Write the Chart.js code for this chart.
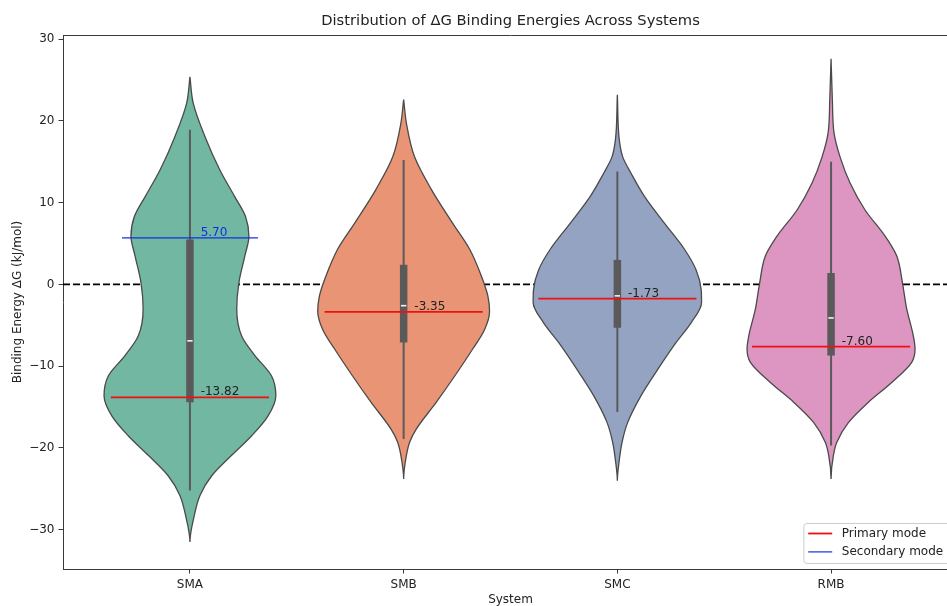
<!DOCTYPE html>
<html>
<head>
<meta charset="utf-8">
<title>Distribution of ΔG Binding Energies Across Systems</title>
<script src="https://cdn.jsdelivr.net/npm/chart.js@4.4.0/dist/chart.umd.min.js"></script>
<style>
  html, body { margin: 0; padding: 0; overflow: hidden; background: #fff; }
  #wrap { width: 1000px; height: 606px; }
</style>
</head>
<body>
<div id="wrap"><canvas id="violins" width="1000" height="606"></canvas></div>
<script>
const systems = ['SMA', 'SMB', 'SMC', 'RMB'];
const yTicks = [-30, -20, -10, 0, 10, 20, 30];

// violin outlines: energy level (kJ/mol) and half width (category units)
const smaLevels = [25.4, 22.2, 18.1, 14.0, 10.8, 8.3, 5.9, 3.5, 0.2, -3.0, -6.3, -8.7, -11.2, -13.6, -16.1, -18.5, -20.9, -23.4, -25.8, -28.3, -31.5];
const smaWidths = [0, 0.015, 0.070, 0.140, 0.208, 0.260, 0.276, 0.257, 0.229, 0.219, 0.242, 0.304, 0.382, 0.402, 0.365, 0.289, 0.195, 0.102, 0.047, 0.020, 0];

const smbLevels = [22.6, 19.7, 15.6, 11.6, 7.5, 4.3, 1.0, -1.4, -3.3, -5.5, -7.9, -11.2, -14.4, -17.7, -19.3, -20.9, -23.8];
const smbWidths = [0, 0.013, 0.051, 0.130, 0.229, 0.309, 0.364, 0.394, 0.402, 0.379, 0.323, 0.239, 0.153, 0.059, 0.028, 0.013, 0];

const smcLevels = [23.2, 17.7, 15.6, 13.6, 10.8, 7.5, 4.3, 1.8, -0.6, -2.2, -4.7, -7.1, -10.4, -13.6, -16.9, -19.3, -21.7, -24.0];
const smcWidths = [0, 0.009, 0.025, 0.064, 0.126, 0.220, 0.314, 0.368, 0.392, 0.394, 0.345, 0.275, 0.189, 0.111, 0.048, 0.022, 0.008, 0];

const rmbLevels = [27.6, 22.6, 18.5, 15.6, 12.4, 9.1, 5.9, 3.5, 0.2, -3.0, -6.3, -7.9, -9.5, -12.0, -14.4, -16.9, -19.3, -20.9, -23.8];
const rmbWidths = [0, 0.006, 0.014, 0.042, 0.089, 0.159, 0.253, 0.307, 0.334, 0.354, 0.385, 0.393, 0.378, 0.284, 0.175, 0.081, 0.027, 0.011, 0];

// inner box stats
const whiskerLow = [-25.2, -18.9, -15.6, -19.7];
const whiskerHigh = [18.9, 15.2, 13.8, 15.0];
const q1 = [-14.4, -7.1, -5.3, -8.7];
const q3 = [5.5, 2.4, 3.0, 1.4];
const medians = [-6.9, -2.6, -1.4, -4.1];

// KDE modes
const primaryModes = [-13.82, -3.35, -1.73, -7.60];
const secondaryModes = [5.70, null, null, null];

const fillColors = ['#71b7a1', '#e99575', '#95a3c3', '#dc96c1'];
const AXIS_COLOR = '#3a3a3a';
const TEXT_COLOR = '#222';
const FONT = '"DejaVu Sans", sans-serif';
const X_MIN = -0.594, X_MAX = 3.594;
const Y_MIN = -34.8, Y_MAX = 30.5;

function violinPoints(i, levels, widths) {
  const right = levels.map((v, k) => ({x: i + widths[k], y: v}));
  const left = levels.map((v, k) => ({x: i - widths[k], y: v})).reverse();
  return right.concat(left.slice(1));
}

const outlines = [
  [smaLevels, smaWidths],
  [smbLevels, smbWidths],
  [smcLevels, smcWidths],
  [rmbLevels, rmbWidths]
];

const datasets = [];
datasets.push({
  data: [{x: X_MIN, y: 0}, {x: X_MAX, y: 0}],
  borderColor: '#000', borderWidth: 1.8, borderDash: [7, 3], order: 10
});
outlines.forEach(([levels, widths], i) => {
  // smooth along the energy axis so tips stay pointed
  datasets.push({
    data: violinPoints(i, levels, widths),
    indexAxis: 'y',
    cubicInterpolationMode: 'monotone',
    borderColor: '#4a4a4a', borderWidth: 1.3,
    backgroundColor: fillColors[i], fill: 'shape', order: 9
  });
  datasets.push({
    data: [{x: i, y: whiskerLow[i]}, {x: i, y: whiskerHigh[i]}],
    borderColor: '#5a5a5a', borderWidth: 2, order: 8
  });
  datasets.push({
    data: [{x: i, y: q1[i]}, {x: i, y: q3[i]}],
    borderColor: '#5a5a5a', borderWidth: 7.5, borderCapStyle: 'butt', order: 7
  });
  datasets.push({
    data: [{x: i - 0.0125, y: medians[i]}, {x: i + 0.0125, y: medians[i]}],
    borderColor: '#f2f2f2', borderWidth: 1.6, borderCapStyle: 'butt', order: 6
  });
  datasets.push({
    label: 'Primary mode',
    data: [{x: i - 0.37, y: primaryModes[i]}, {x: i + 0.37, y: primaryModes[i]}],
    borderColor: '#f01010', borderWidth: 1.8, order: 5
  });
  if (secondaryModes[i] !== null) {
    datasets.push({
      label: 'Secondary mode',
      data: [{x: i - 0.318, y: secondaryModes[i]}, {x: i + 0.318, y: secondaryModes[i]}],
      borderColor: '#1030e0', borderWidth: 1.2, order: 5
    });
  }
});

// title, top spine, mode labels and legend box
const decorations = {
  id: 'decorations',
  afterDatasetsDraw(chart) {
    const {ctx, chartArea, scales: {x, y}} = chart;
    ctx.save();

    ctx.strokeStyle = AXIS_COLOR;
    ctx.lineWidth = 1;
    ctx.beginPath();
    ctx.moveTo(chartArea.left, chartArea.top + 0.5);
    ctx.lineTo(chartArea.right, chartArea.top + 0.5);
    ctx.stroke();

    ctx.font = '12px ' + FONT;
    ctx.textAlign = 'left';
    ctx.textBaseline = 'alphabetic';
    primaryModes.forEach((m, i) => {
      ctx.fillStyle = TEXT_COLOR;
      ctx.fillText(m.toFixed(2), x.getPixelForValue(i + 0.05), y.getPixelForValue(m) - 2);
    });
    secondaryModes.forEach((m, i) => {
      if (m === null) return;
      ctx.fillStyle = '#1030e0';
      ctx.fillText(m.toFixed(2), x.getPixelForValue(i + 0.05), y.getPixelForValue(m) - 2);
    });

    ctx.font = '14.7px ' + FONT;
    ctx.textAlign = 'center';
    ctx.textBaseline = 'middle';
    ctx.fillStyle = TEXT_COLOR;
    ctx.fillText('Distribution of ΔG Binding Energies Across Systems', (chartArea.left + chartArea.right) / 2, 21);

    // legend, lower right
    const entries = [];
    chart.data.datasets.forEach(ds => {
      if (ds.label && !entries.find(e => e.label === ds.label)) entries.push(ds);
    });
    ctx.font = '12px ' + FONT;
    const textW = Math.max(...entries.map(e => ctx.measureText(e.label).width));
    const boxW = 4.8 + 24 + 9.6 + textW + 4.8;
    const boxH = 40;
    const right = chartArea.right - 6;
    const bottom = chartArea.bottom - 6;
    const left = right - boxW - 4;
    const top = bottom - boxH;
    ctx.fillStyle = 'rgba(255,255,255,0.8)';
    ctx.strokeStyle = '#cccccc';
    ctx.lineWidth = 1;
    ctx.beginPath();
    ctx.roundRect(left + 0.5, top + 0.5, boxW + 4, boxH, 3);
    ctx.fill();
    ctx.stroke();
    ctx.textAlign = 'left';
    ctx.textBaseline = 'middle';
    entries.forEach((e, k) => {
      const cy = top + 10.5 + k * 18.4;
      ctx.strokeStyle = e.borderColor;
      ctx.lineWidth = e.borderWidth;
      ctx.beginPath();
      ctx.moveTo(left + 4.8, cy);
      ctx.lineTo(left + 28.8, cy);
      ctx.stroke();
      ctx.fillStyle = TEXT_COLOR;
      ctx.fillText(e.label, left + 38.4, cy);
    });
    ctx.restore();
  }
};

new Chart(document.getElementById('violins'), {
  type: 'line',
  data: {datasets},
  options: {
    responsive: false,
    animation: false,
    devicePixelRatio: 1,
    events: [],
    layout: {padding: {top: 35, right: 42, left: 0, bottom: 0}},
    elements: {point: {radius: 0}},
    plugins: {legend: {display: false}, tooltip: {enabled: false}},
    scales: {
      x: {
        type: 'linear',
        min: X_MIN,
        max: X_MAX,
        afterBuildTicks: s => { s.ticks = systems.map((_, i) => ({value: i})); },
        afterFit: s => { s.height = 37; },
        ticks: {
          callback: v => systems[v],
          font: {family: FONT, size: 12},
          color: TEXT_COLOR,
          padding: 4.5,
          maxRotation: 0
        },
        grid: {drawOnChartArea: false, tickLength: 4.5, color: AXIS_COLOR},
        border: {color: AXIS_COLOR, width: 1},
        title: {
          display: true, text: 'System', color: TEXT_COLOR,
          font: {family: FONT, size: 12, lineHeight: 1}, padding: {top: 0, bottom: 0}
        }
      },
      y: {
        type: 'linear',
        min: Y_MIN,
        max: Y_MAX,
        afterBuildTicks: s => { s.ticks = yTicks.map(v => ({value: v})); },
        afterFit: s => { s.width = 63; },
        ticks: {
          callback: v => (v < 0 ? '\u2212' + Math.abs(v) : String(v)),
          font: {family: FONT, size: 12},
          color: TEXT_COLOR,
          padding: 4
        },
        grid: {drawOnChartArea: false, tickLength: 4.5, color: AXIS_COLOR},
        border: {color: AXIS_COLOR, width: 1},
        title: {
          display: true, text: 'Binding Energy ΔG (kJ/mol)', color: TEXT_COLOR,
          font: {family: FONT, size: 12, lineHeight: 1.2}, padding: {top: 11, bottom: 0}
        }
      }
    }
  },
  plugins: [decorations]
});
</script>
</body>
</html>
